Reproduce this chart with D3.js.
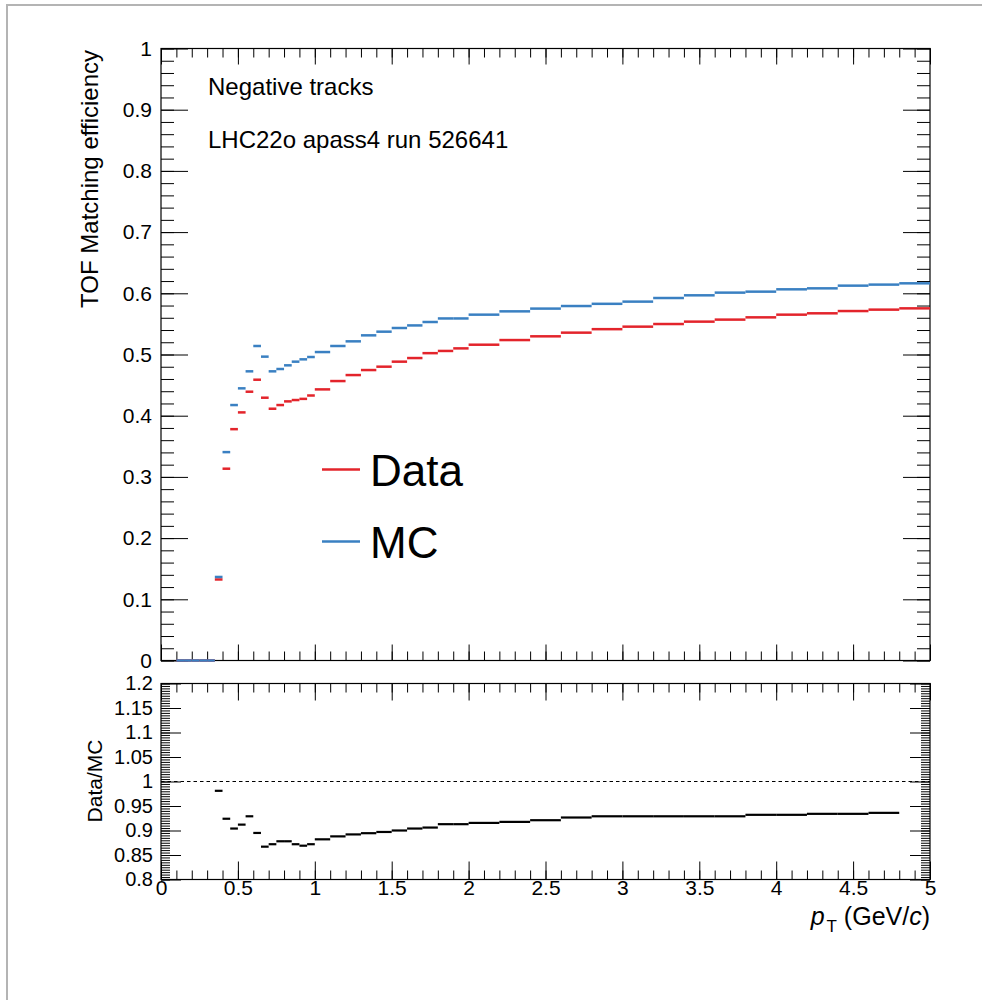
<!DOCTYPE html>
<html>
<head>
<meta charset="utf-8">
<script src="https://cdn.jsdelivr.net/npm/d3@7"></script>
<style>
  html, body { margin: 0; padding: 0; background: #fff; }
  svg { display: block; }
  text { font-family: "Liberation Sans", Arial, Helvetica, sans-serif; fill: #000; }
</style>
</head>
<body>
<svg id="chart" width="982" height="1000"></svg>
<script>
// ---- Data ----
const binEdges = [0.1,0.15,0.2,0.25,0.3,0.35,0.4,0.45,0.5,0.55,0.6,0.65,0.7,0.75,0.8,0.85,0.9,0.95,
  1.0,1.1,1.2,1.3,1.4,1.5,1.6,1.7,1.8,1.9,2.0,2.2,2.4,2.6,2.8,3.0,3.2,3.4,3.6,3.8,4.0,4.2,4.4,4.6,4.8,5.0];
const dataEff = [0,0,0,0,0,0.1324,0.3134,0.378,0.4054,0.4392,0.4588,0.4294,0.4114,0.4174,0.4234,0.4256,0.4275,0.4330,
  0.443,0.4566,0.4664,0.4746,0.4801,0.4883,0.4942,0.5022,0.5058,0.5100,
  0.5160,0.5236,0.5297,0.5357,0.5414,0.5455,0.5498,0.5537,0.5570,0.5607,0.5651,0.5673,0.5710,0.5733,0.5754];
const mcEff = [0,0,0,0,0,0.1365,0.3405,0.4174,0.4447,0.4725,0.5139,0.4965,0.4725,0.4763,0.4823,0.4883,0.4921,0.4959,
  0.5040,0.5139,0.5215,0.5313,0.5373,0.5433,0.5475,0.5531,0.5589,0.5589,
  0.5651,0.5705,0.5750,0.5792,0.5828,0.5864,0.5923,0.5967,0.6011,0.6027,0.6065,0.6081,0.6125,0.6142,0.6163];
const ratio = [null,null,null,null,null,0.981,0.924,0.904,0.912,0.929,0.895,0.867,0.872,0.878,0.878,0.872,0.869,0.872,
  0.882,0.888,0.892,0.8945,0.897,0.900,0.904,0.906,0.9129,0.9129,
  0.9155,0.9176,0.921,0.9265,0.929,0.929,0.929,0.929,0.929,0.932,0.932,0.934,0.934,0.936,null];
const xMajorTicks = [0,0.5,1,1.5,2,2.5,3,3.5,4,4.5,5];
const yTopTicks = [0,0.1,0.2,0.3,0.4,0.5,0.6,0.7,0.8,0.9,1];
const yRatioTicks = [0.8,0.85,0.9,0.95,1,1.05,1.1,1.15,1.2];
const legendLabels = ["Data","MC"];
const infoLines = ["Negative tracks","LHC22o apass4 run 526641"];

const RED = "#e3242b", BLUE = "#3a80c2";

const svg = d3.select("#chart");
// canvas border
svg.append("rect").attr("x",7).attr("y",5).attr("width",990).attr("height",1010)
  .attr("fill","none").attr("stroke","#b4b4b4").attr("stroke-width",2);

const x = d3.scaleLinear([0,5],[161,930]);
const yTop = d3.scaleLinear([0,1],[660.5,48.5]);
const yRat = d3.scaleLinear([0.8,1.2],[879.5,683.5]);

const minorX = d3.range(0,5.0001,0.1).map(v=>+v.toFixed(2));
const minorYTop = d3.range(0,1.0001,0.02).map(v=>+v.toFixed(3));
const minorYRat = d3.range(0.8,1.2001,0.005).map(v=>+v.toFixed(4));

function drawAxis(gen, transform, ticks, size, fmt, pad, fontSize) {
  const g = svg.append("g").attr("transform", transform)
    .call(gen.tickValues(ticks).tickSize(-size).tickPadding(pad).tickFormat(fmt));
  g.select(".domain").remove();
  g.selectAll(".tick line").attr("stroke","#000").attr("stroke-width",1);
  g.selectAll(".tick text").attr("font-size",fontSize).attr("font-family","Liberation Sans, Arial, sans-serif");
  return g;
}
const none = () => "";

// ---- Top panel axes ----
drawAxis(d3.axisLeft(yTop), "translate(161,0)", minorYTop, 13, none, 0, 0);
drawAxis(d3.axisLeft(yTop), "translate(161,0)", yTopTicks, 27, d=>String(d), 9, 21);
drawAxis(d3.axisRight(yTop), "translate(930,0)", minorYTop, 13, none, 0, 0);
drawAxis(d3.axisRight(yTop), "translate(930,0)", yTopTicks, 27, none, 0, 0);
drawAxis(d3.axisBottom(x), "translate(0,660.5)", minorX, 9, none, 0, 0);
drawAxis(d3.axisBottom(x), "translate(0,660.5)", xMajorTicks, 16, none, 0, 0);
drawAxis(d3.axisTop(x), "translate(0,48.5)", minorX, 9, none, 0, 0);
drawAxis(d3.axisTop(x), "translate(0,48.5)", xMajorTicks, 16, none, 0, 0);
svg.append("rect").attr("x",161).attr("y",48.5).attr("width",769).attr("height",612)
  .attr("fill","none").attr("stroke","#000").attr("stroke-width",1.2);

// ---- Ratio panel axes ----
drawAxis(d3.axisLeft(yRat), "translate(161,0)", minorYRat, 9, none, 0, 0);
drawAxis(d3.axisLeft(yRat), "translate(161,0)", yRatioTicks, 20, d=>String(d), 8, 20);
drawAxis(d3.axisRight(yRat), "translate(930,0)", minorYRat, 9, none, 0, 0);
drawAxis(d3.axisRight(yRat), "translate(930,0)", yRatioTicks, 20, none, 0, 0);
drawAxis(d3.axisBottom(x), "translate(0,879.5)", minorX, 9, none, 0, 0);
drawAxis(d3.axisBottom(x), "translate(0,879.5)", xMajorTicks, 18, d=>String(d), 1, 21);
drawAxis(d3.axisTop(x), "translate(0,683.5)", minorX, 9, none, 0, 0);
drawAxis(d3.axisTop(x), "translate(0,683.5)", xMajorTicks, 17, none, 0, 0);
svg.append("rect").attr("x",161).attr("y",683.5).attr("width",769).attr("height",196)
  .attr("fill","none").attr("stroke","#000").attr("stroke-width",1.2);

// ---- Marks ----
const bins = binEdges.slice(0,-1).map((lo,i)=>({lo, hi: binEdges[i+1], d: dataEff[i], m: mcEff[i], r: ratio[i]}));

svg.append("g").selectAll("line").data(bins).join("line")
  .attr("x1",b=>x(b.lo)).attr("x2",b=>x(b.hi))
  .attr("y1",b=>yTop(b.d)).attr("y2",b=>yTop(b.d))
  .attr("stroke",RED).attr("stroke-width",2.5);
svg.append("g").selectAll("line").data(bins).join("line")
  .attr("x1",b=>x(b.lo)).attr("x2",b=>x(b.hi))
  .attr("y1",b=>yTop(b.m)).attr("y2",b=>yTop(b.m))
  .attr("stroke",BLUE).attr("stroke-width",2.5);

// ratio reference line
svg.append("line").attr("x1",x(0)).attr("x2",x(5)).attr("y1",yRat(1)).attr("y2",yRat(1))
  .attr("stroke","#000").attr("stroke-width",1).attr("stroke-dasharray","3.5,3");
svg.append("g").selectAll("line").data(bins.filter(b=>b.r!==null)).join("line")
  .attr("x1",b=>x(b.lo)).attr("x2",b=>x(b.hi))
  .attr("y1",b=>yRat(b.r)).attr("y2",b=>yRat(b.r))
  .attr("stroke","#000").attr("stroke-width",2.2);

// ---- Texts ----
svg.append("text").attr("x",208).attr("y",95).attr("font-size",24).text(infoLines[0]);
svg.append("text").attr("x",208).attr("y",148).attr("font-size",24).text(infoLines[1]);

const legend = svg.append("g");
const legY = [469.5, 541.5];
const legCol = [RED, BLUE];
legendLabels.forEach((lab,i)=>{
  legend.append("line").attr("x1",322).attr("x2",360).attr("y1",legY[i]).attr("y2",legY[i])
    .attr("stroke",legCol[i]).attr("stroke-width",2.5);
  legend.append("text").attr("x",370).attr("y",legY[i]+16.5).attr("font-size",44).text(lab);
});

svg.append("text").attr("transform","translate(98,50) rotate(-90)").attr("text-anchor","end")
  .attr("font-size",24).text("TOF Matching efficiency");
svg.append("text").attr("transform","translate(102,781) rotate(-90)").attr("text-anchor","middle")
  .attr("font-size",21).text("Data/MC");

const xt = svg.append("text").attr("x",930).attr("y",925).attr("text-anchor","end").attr("font-size",25);
xt.append("tspan").attr("font-style","italic").text("p");
xt.append("tspan").attr("font-size",17).attr("dy",7).attr("dx",2).text("T");
xt.append("tspan").attr("dy",-7).text(" (GeV/");
xt.append("tspan").attr("font-style","italic").text("c");
xt.append("tspan").text(")");
</script>
</body>
</html>
